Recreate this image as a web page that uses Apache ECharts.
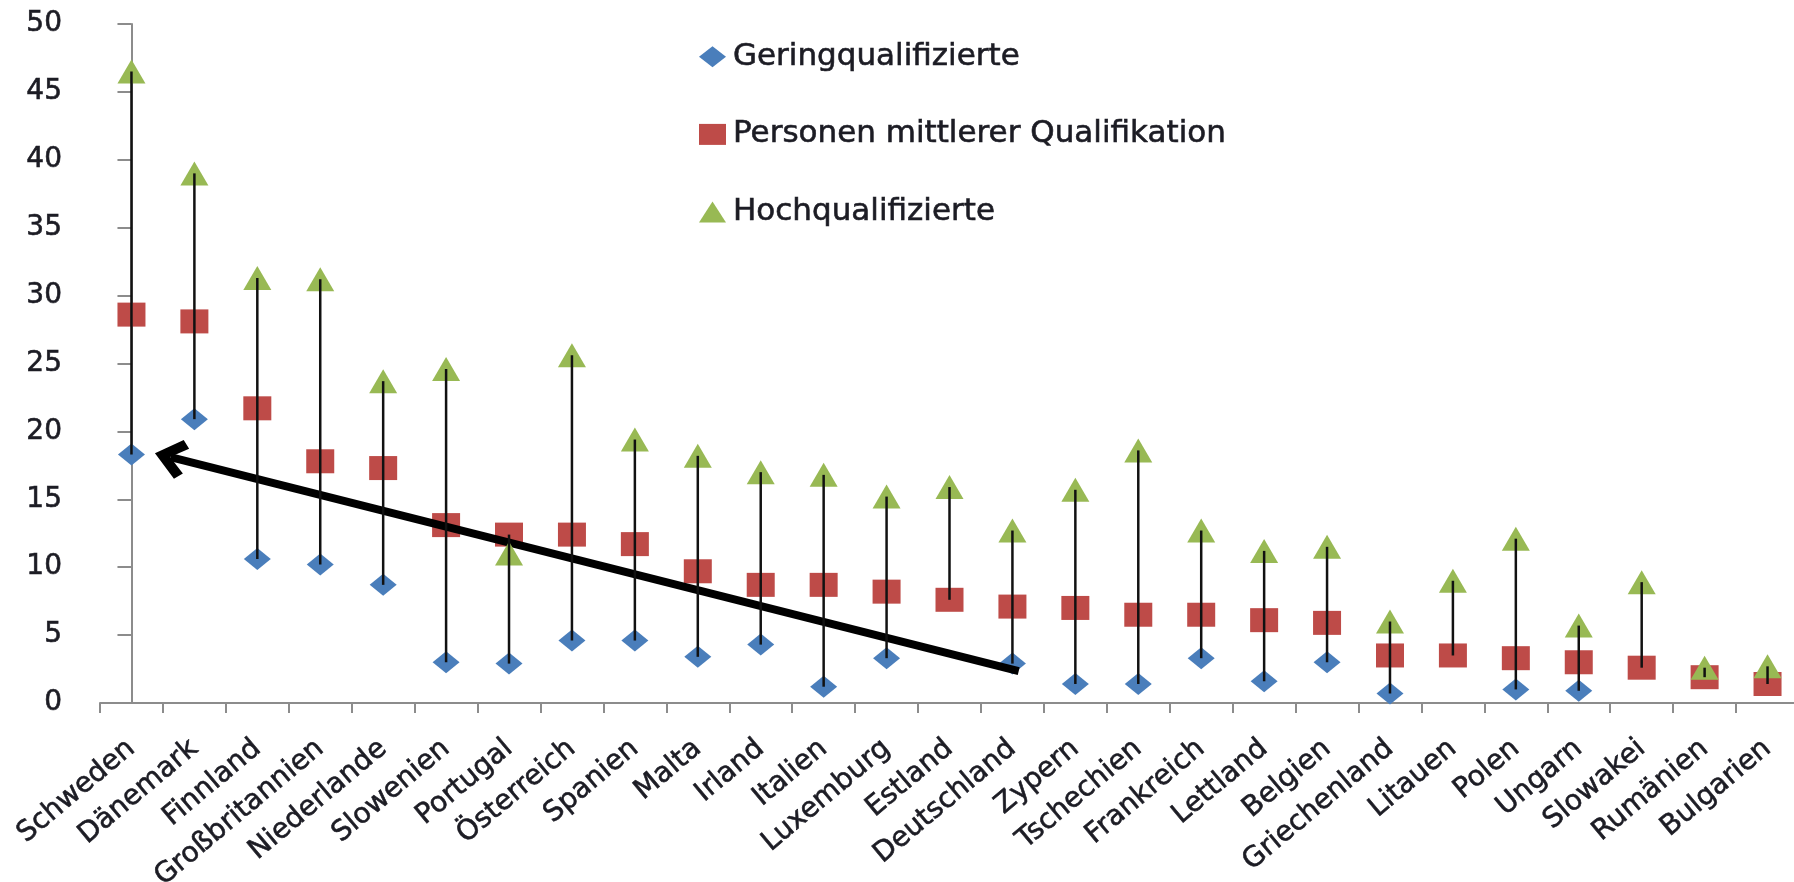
<!DOCTYPE html>
<html>
<head>
<meta charset="utf-8">
<script src="https://cdn.jsdelivr.net/npm/echarts@6/dist/echarts.min.js"></script>
<style>
  html, body { margin: 0; padding: 0; background: #fff; }
  #chart { width: 1794px; height: 882px; }
</style>
</head>
<body>
<div id="chart"></div>
<script>
var categories = ['Schweden', 'Dänemark', 'Finnland', 'Großbritannien', 'Niederlande', 'Slowenien',
    'Portugal', 'Österreich', 'Spanien', 'Malta', 'Irland', 'Italien', 'Luxemburg', 'Estland',
    'Deutschland', 'Zypern', 'Tschechien', 'Frankreich', 'Lettland', 'Belgien', 'Griechenland',
    'Litauen', 'Polen', 'Ungarn', 'Slowakei', 'Rumänien', 'Bulgarien'];

var gering = [18.3, 20.9, 10.6, 10.2, 8.7, 3.0, 2.9, 4.6, 4.6, 3.4, 4.3, 1.2, 3.3, null,
    2.9, 1.4, 1.4, 3.3, 1.6, 3.0, 0.7, null, 1.0, 0.9, null, null, null];
var mittel = [28.6, 28.1, 21.7, 17.8, 17.3, 13.1, 12.4, 12.4, 11.7, 9.7, 8.7, 8.7, 8.2, 7.6,
    7.1, 7.0, 6.5, 6.5, 6.1, 5.9, 3.5, 3.5, 3.3, 3.0, 2.6, 1.9, 1.4];
var hoch = [46.5, 39.0, 31.3, 31.2, 23.7, 24.6, 11.0, 25.6, 19.4, 18.2, 17.0, 16.8, 15.2, 15.9,
    12.7, 15.7, 18.6, 12.7, 11.2, 11.5, 6.0, 9.0, 12.1, 5.7, 8.9, 2.6, 2.7];

var yTicks = [0, 5, 10, 15, 20, 25, 30, 35, 40, 45, 50];

// Pfeil (Annotation) von Deutschland zurück zu Schweden
var arrowStart = [14.1, 2.35];
var arrowEnd = [0.62, 18.1];

// high-low lines: min..max per Land
var hiLo = categories.map(function (c, i) {
    var vals = [gering[i], mittel[i], hoch[i]].filter(function (v) { return v != null; });
    return [i, Math.min.apply(null, vals), Math.max.apply(null, vals)];
});

var font = 'DejaVu Sans';
var textColor = '#1c1c24';
// etwas kräftiger als regular, aber nicht fett
var thick = { textBorderColor: textColor, textBorderWidth: 0.6 };

var chart = echarts.init(document.getElementById('chart'));
chart.setOption({
    animation: false,
    textStyle: { fontFamily: font },
    grid: { left: 100, right: -5, top: 24, bottom: 179, outerBoundsMode: 'none', containLabel: false },
    legend: {
        orient: 'vertical',
        left: 694,
        top: 36,
        itemGap: 46,
        itemWidth: 27,
        itemHeight: 21,
        data: [
            { name: 'Geringqualifizierte', icon: 'diamond' },
            { name: 'Personen mittlerer Qualifikation', icon: 'rect' },
            { name: 'Hochqualifizierte', icon: 'triangle' }
        ],
        textStyle: Object.assign({ fontSize: 31, lineHeight: 30, color: textColor, fontFamily: font, padding: [0, 0, 0, 2] }, thick)
    },
    xAxis: [{
        type: 'category',
        data: categories,
        boundaryGap: true,
        axisLine: { lineStyle: { color: '#8c8c8c', width: 2 } },
        axisTick: { show: true, length: 10, alignWithLabel: false, lineStyle: { color: '#8c8c8c', width: 2 } },
        axisLabel: Object.assign({ rotate: 40, interval: 0, fontSize: 28, color: textColor, margin: 42, fontFamily: font }, thick),
        splitLine: { show: false }
    }, {
        type: 'value',
        min: -0.5,
        max: categories.length - 0.5,
        show: false
    }],
    yAxis: {
        type: 'value',
        min: yTicks[0],
        max: yTicks[yTicks.length - 1],
        interval: 5,
        axisLine: { show: true, lineStyle: { color: '#8c8c8c', width: 2 } },
        axisTick: { show: true, length: 14, lineStyle: { color: '#8c8c8c', width: 2 } },
        axisLabel: Object.assign({ fontSize: 28, color: textColor, margin: 38, fontFamily: font }, thick),
        splitLine: { show: false }
    },
    series: [
        {
            name: 'Geringqualifizierte',
            type: 'scatter',
            symbol: 'diamond',
            symbolSize: [27, 22],
            itemStyle: { color: '#4a7ebb', opacity: 1 },
            data: gering,
            z: 3
        },
        {
            name: 'Personen mittlerer Qualifikation',
            type: 'scatter',
            symbol: 'rect',
            symbolSize: [28, 24],
            itemStyle: { color: '#be4b48', opacity: 1 },
            data: mittel,
            z: 4
        },
        {
            name: 'Hochqualifizierte',
            type: 'scatter',
            symbol: 'triangle',
            symbolSize: [28, 24],
            itemStyle: { color: '#98b954', opacity: 1 },
            data: hoch,
            z: 5
        },
        {
            name: 'hilo',
            type: 'custom',
            z: 6,
            silent: true,
            data: hiLo,
            renderItem: function (params, api) {
                var p1 = api.coord([api.value(0), api.value(1)]);
                var p2 = api.coord([api.value(0), api.value(2)]);
                return {
                    type: 'line',
                    shape: { x1: p1[0], y1: p1[1], x2: p2[0], y2: p2[1] },
                    style: { stroke: '#111', lineWidth: 2.5 }
                };
            }
        },
        {
            name: 'pfeil',
            type: 'line',
            xAxisIndex: 1,
            z: 7,
            silent: true,
            showSymbol: false,
            lineStyle: { opacity: 0 },
            data: [arrowStart, arrowEnd],
            markLine: {
                silent: true,
                symbol: ['none', 'path://M50,0 L100,60 L82,78 L50,38 L18,78 L0,60 Z'],
                symbolSize: [40, 32],
                label: { show: false },
                lineStyle: { color: '#000', width: 8, type: 'solid' },
                data: [[{ coord: arrowStart }, { coord: arrowEnd }]]
            }
        }
    ]
});
</script>
</body>
</html>
